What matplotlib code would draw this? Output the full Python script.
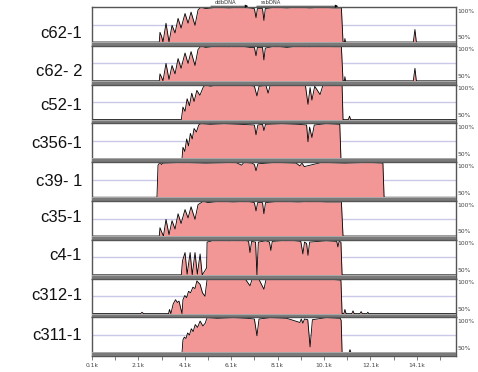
import numpy as np
import matplotlib.pyplot as plt

# sample names (top to bottom)
names = ['c62-1', 'c62- 2', 'c52-1', 'c356-1', 'c39- 1', 'c35-1', 'c4-1', 'c312-1', 'c311-1']

# conservation profiles: positions (bp) and % identity
c62_1_pos = [100, 3000, 3030, 3100, 3160, 3290, 3420, 3550, 3680, 3810, 3940, 4110, 4240, 4370, 4540, 4670,
             4800, 5000, 5500, 6000, 6500, 6900, 7100, 7170, 7230, 7450, 7510, 7570, 8000, 8500, 9000, 9500,
             10000, 10500, 10850, 10920, 10980, 11000, 11030, 13950, 14020, 14080, 15790]
c62_1_val = [50, 50, 64, 58, 50, 77, 50, 74, 63, 84, 70, 91, 77, 93, 74, 96,
             100, 98, 100, 99, 100, 99, 98, 85, 98, 98, 81, 98, 100, 99, 100, 99,
             100, 99, 99, 50, 50, 55, 50, 50, 68, 50, 50]

c62_2_pos = [100, 3000, 3030, 3100, 3160, 3290, 3420, 3550, 3680, 3810, 3940, 4110, 4240, 4370, 4540, 4670,
             4800, 5000, 5500, 6000, 6500, 6900, 7100, 7170, 7230, 7450, 7510, 7570, 8000, 8500, 9000, 9500,
             10000, 10500, 10850, 10920, 10980, 11000, 11030, 13950, 14020, 14080, 15790]
c62_2_val = [50, 50, 60, 55, 50, 75, 52, 72, 60, 82, 68, 90, 75, 92, 72, 95,
             100, 98, 100, 99, 100, 98, 98, 86, 98, 98, 80, 97, 100, 98, 100, 99,
             100, 99, 99, 50, 50, 56, 50, 50, 68, 50, 50]

c52_1_pos = [100, 3950, 4020, 4110, 4200, 4300, 4400, 4500, 4620, 4750, 4900, 5000, 5200, 5600, 6200, 6800,
             7100, 7210, 7300, 7600, 7690, 7780, 8500, 9300, 9410, 9500, 9580, 9700, 9930, 10050, 10500,
             10880, 10920, 11150, 11200, 11250, 15790]
c52_1_val = [50, 50, 68, 62, 80, 70, 88, 76, 92, 85, 97, 100, 98, 100, 99, 100,
             98, 84, 98, 99, 88, 99, 100, 99, 72, 96, 78, 98, 86, 99, 100,
             99, 50, 50, 55, 50, 50]

c356_1_pos = [100, 3980, 4020, 4100, 4180, 4260, 4340, 4420, 4500, 4600, 4700, 4800, 5200, 5800, 6500,
              7100, 7170, 7250, 7450, 7510, 7580, 8300, 9000, 9350, 9410, 9480, 9580, 9680, 10200, 10780,
              10830, 15790]
c356_1_val = [50, 50, 66, 60, 78, 68, 86, 78, 93, 88, 98, 100, 99, 100, 99,
              98, 84, 98, 99, 90, 99, 100, 99, 98, 74, 95, 80, 98, 100, 99,
              50, 50]

c39_1_pos = [100, 2900, 2945, 3030, 3100, 3150, 4000, 5000, 6300, 6550, 6650, 7000, 7100, 7170, 7250,
             8000, 8900, 9060, 9150, 9250, 10000, 11000, 12000, 12640, 12690, 12750, 15790]
c39_1_val = [50, 50, 96, 100, 97, 99, 100, 99, 100, 96, 100, 99, 97, 88, 98,
             100, 99, 95, 99, 94, 100, 99, 100, 99, 50, 50, 50]

c35_1_pos = [100, 3000, 3030, 3100, 3180, 3290, 3420, 3550, 3680, 3810, 3940, 4110, 4240, 4370, 4540, 4670,
             4900, 5100, 5600, 6200, 6800, 7100, 7170, 7240, 7450, 7510, 7580, 8200, 9000, 9600, 10200,
             10850, 10920, 15790]
c35_1_val = [50, 50, 62, 56, 50, 74, 52, 72, 60, 82, 68, 88, 76, 92, 74, 95,
             100, 98, 100, 99, 100, 98, 86, 98, 98, 82, 98, 100, 99, 100, 99,
             99, 50, 50]

c4_1_pos = [100, 3950, 4000, 4110, 4200, 4330, 4420, 4540, 4640, 4760, 4850, 4950, 5040, 5060, 5400, 6000,
            6700, 6850, 6910, 6980, 7150, 7210, 7270, 7600, 7750, 7810, 7870, 8600, 9100, 9190, 9260, 9350,
            9410, 9480, 10200, 10650, 10700, 10750, 10830, 10880, 15790]
c4_1_val = [50, 50, 70, 82, 51, 82, 50, 82, 51, 80, 50, 55, 60, 97, 100, 99,
            100, 98, 82, 98, 97, 50, 97, 99, 97, 85, 98, 100, 98, 80, 97, 95,
            78, 97, 99, 98, 90, 98, 97, 50, 50]

c312_1_pos = [100, 2200, 2255, 2320, 3400, 3440, 3500, 3600, 3700, 3780, 3850, 3980, 4020, 4100, 4180, 4260,
              4350, 4450, 4540, 4620, 4760, 4860, 4970, 5060, 5400, 6000, 6700, 6910, 7000, 7300, 7510,
              7600, 8300, 9000, 9800, 10500, 10830, 10880, 10960, 11000, 11050, 11300, 11350, 11400, 11650,
              11700, 11750, 11950, 11990, 12030, 15790]
c312_1_val = [50, 50, 52, 50, 50, 56, 50, 64, 70, 66, 68, 50, 70, 76, 73, 82,
              80, 88, 86, 97, 92, 80, 75, 99, 100, 99, 100, 90, 99, 99, 85,
              99, 100, 99, 100, 99, 98, 50, 50, 56, 50, 50, 54, 50, 50,
              53, 50, 50, 52, 50, 50]

c311_1_pos = [100, 3980, 4020, 4080, 4150, 4220, 4300, 4380, 4460, 4550, 4650, 4760, 4880, 4980, 5060, 5500,
              6200, 6800, 7100, 7210, 7300, 7800, 8500, 9060, 9120, 9190, 9260, 9400, 9500, 9600, 10200,
              10800, 10840, 10880, 11180, 11220, 11260, 15790]
c311_1_val = [50, 50, 68, 72, 70, 78, 75, 84, 80, 90, 86, 95, 88, 92, 100, 99,
              100, 99, 98, 74, 98, 100, 99, 93, 98, 92, 98, 97, 58, 97, 100,
              99, 96, 50, 50, 54, 50, 50]

positions = [c62_1_pos, c62_2_pos, c52_1_pos, c356_1_pos, c39_1_pos, c35_1_pos, c4_1_pos, c312_1_pos, c311_1_pos]
values = [c62_1_val, c62_2_val, c52_1_val, c356_1_val, c39_1_val, c35_1_val, c4_1_val, c312_1_val, c311_1_val]

# x axis
x_min, x_max = 100, 15790
major_ticks = [100, 2100, 4100, 6100, 8100, 10100, 12100, 14100]
major_labels = ['0.1k', '2.1k', '4.1k', '6.1k', '8.1k', '10.1k', '12.1k', '14.1k']
minor_ticks = [1100, 3100, 5100, 7100, 9100, 11100, 13100, 15100]

# gene annotations on top
genes = [('ddbDNA', 5100, 6950), ('ssbDNA', 7080, 10830)]

W, H = 478, 372
fig = plt.figure(figsize=(W / 100, H / 100), dpi=100)

pink = '#f29696'
bar_gray = '#7a7a7a'
left_px, right_px = 92, 456
top_px, step_px = 7, 38.8
ybot = 44.6
label_y_px = [33, 71, 106, 143, 181, 218, 256, 296, 335]

axes = []
for i, (pos, val) in enumerate(zip(positions, values)):
    top = top_px + step_px * i
    ax = fig.add_axes([left_px / W, 1 - (top + step_px) / H, (right_px - left_px) / W, step_px / H])
    ax.set_xlim(x_min, x_max)
    ax.set_ylim(ybot, 100.3)
    ax.axhspan(ybot, 50, color=bar_gray, zorder=3, lw=0)
    ax.axhline(50, color='#b0b0b0', lw=0.6, zorder=4)
    ax.axhline(75, color='#c9c9e6', lw=1.0, zorder=1)
    ax.fill_between(pos, 50, val, color=pink, lw=0, zorder=2)
    ax.plot(pos, val, color='black', lw=0.6, zorder=2.5)
    for side in ['left', 'right', 'top', 'bottom']:
        ax.spines[side].set_color('#555555')
        ax.spines[side].set_linewidth(1.0)
    ax.set_yticks([])
    ax.set_xticks([])
    ax.text(1.004, 0.96, '100%', transform=ax.transAxes, fontsize=4.3, color='#444444',
            ha='left', va='top')
    ax.text(1.004, 0.14, '50%', transform=ax.transAxes, fontsize=4.3, color='#444444',
            ha='left', va='bottom')
    fig.text(82 / W, 1 - label_y_px[i] / H, names[i], fontsize=12, family='Liberation Sans',
             ha='right', va='center', color='#111111')
    axes.append(ax)

ax = axes[-1]
ax.set_xticks(major_ticks)
ax.set_xticklabels(major_labels, fontsize=4.3, color='#444444')
ax.set_xticks(minor_ticks, minor=True)
ax.tick_params(axis='x', which='both', length=3, width=0.6, color='#666666', pad=2)

# gene arrows above the first panel
ax0 = axes[0]
for name, start, end in genes:
    ax0.annotate('', xy=(end, 101.5), xytext=(start, 101.5), xycoords='data',
                 arrowprops=dict(arrowstyle='-|>', color='black', lw=0.5, mutation_scale=4),
                 annotation_clip=False)
    ax0.text(start + 300, 102.5, name, fontsize=3.8, color='#333333', ha='left', va='bottom',
             clip_on=False)

fig.savefig('out.png', dpi=100)
